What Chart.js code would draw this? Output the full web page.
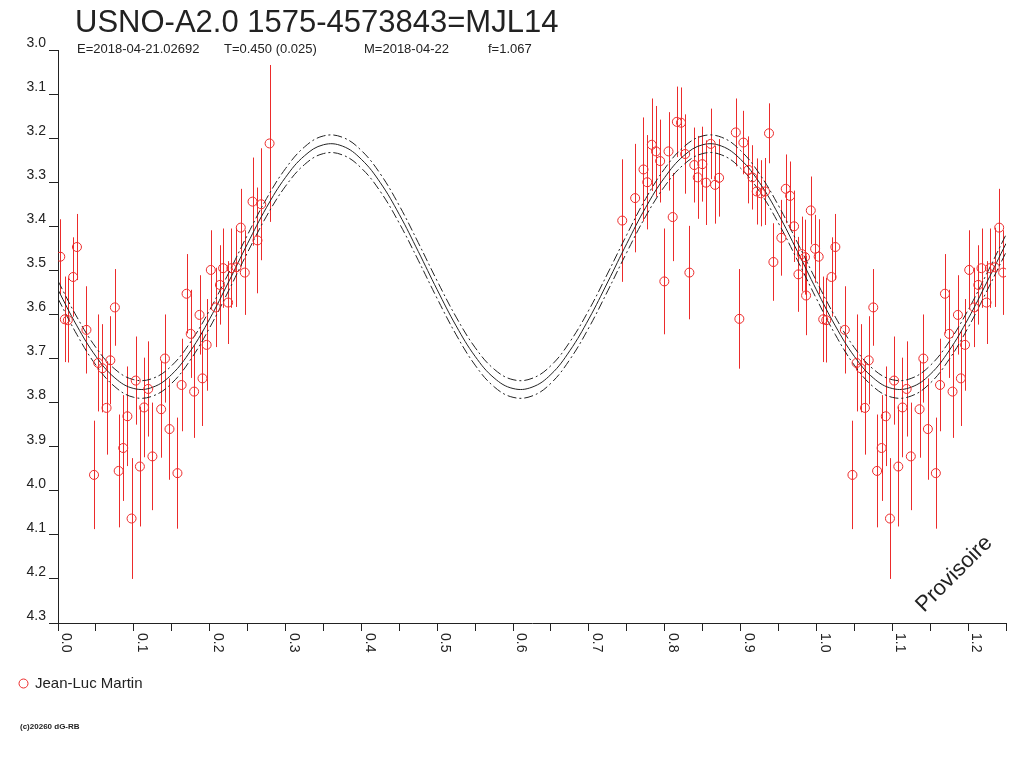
<!DOCTYPE html>
<html>
<head>
<meta charset="utf-8">
<script src="https://cdn.jsdelivr.net/npm/chart.js@4.4.1/dist/chart.umd.min.js"></script>
<style>
html,body{margin:0;padding:0;background:#fff;}
#wrap{width:1024px;height:768px;}
</style>
</head>
<body>
<div id="wrap"><canvas id="lc" width="1024" height="768"></canvas></div>
<script>
const phases = [0.003,0.009,0.013,0.020,0.025,0.0375,0.0475,0.053,0.0585,0.064,0.069,0.075,0.080,0.086,0.0915,0.097,0.1025,0.108,0.1135,0.119,0.1245,0.136,0.141,0.147,0.1575,0.163,0.1695,0.175,0.1795,0.1866,0.1905,0.196,0.2015,0.208,0.2135,0.2177,0.2243,0.2287,0.2353,0.241,0.2463,0.2565,0.263,0.268,0.279,
  0.744,0.761,0.772,0.777,0.783,0.7885,0.794,0.7995,0.805,0.8105,0.816,0.8215,0.827,0.8325,0.839,0.8435,0.8496,0.8545,0.8607,0.8664,0.8717,0.8937,0.8984,0.9037,0.9103,0.9156,0.9213,0.9266,0.9323,0.9375,0.9433,0.9538,0.9596,0.9653,0.9706,0.9763,0.9807,0.985,0.9864,0.9926,0.9983];
const mags = [3.469,3.611,3.613,3.515,3.447,3.635,3.964,3.710,3.722,3.812,3.704,3.584,3.955,3.903,3.831,4.063,3.750,3.945,3.811,3.769,3.922,3.815,3.700,3.860,3.960,3.760,3.553,3.644,3.775,3.601,3.745,3.669,3.499,3.584,3.533,3.495,3.573,3.495,3.493,3.403,3.505,3.344,3.432,3.350,3.212,
  3.387,3.336,3.271,3.300,3.215,3.230,3.252,3.525,3.230,3.379,3.163,3.165,3.236,3.505,3.261,3.289,3.259,3.301,3.213,3.306,3.290,3.187,3.610,3.210,3.272,3.289,3.321,3.325,3.321,3.189,3.481,3.426,3.315,3.331,3.400,3.509,3.463,3.470,3.557,3.364,3.451];
const errs = [0.085,0.097,0.096,0.090,0.075,0.099,0.123,0.110,0.100,0.106,0.100,0.087,0.128,0.120,0.113,0.137,0.100,0.136,0.113,0.108,0.122,0.110,0.100,0.115,0.126,0.105,0.090,0.100,0.105,0.090,0.108,0.104,0.090,0.090,0.090,0.090,0.094,0.090,0.090,0.088,0.096,0.100,0.120,0.127,0.178,
  0.139,0.123,0.118,0.107,0.105,0.103,0.094,0.120,0.089,0.100,0.080,0.080,0.090,0.106,0.085,0.094,0.085,0.096,0.080,0.088,0.088,0.077,0.113,0.072,0.076,0.073,0.075,0.075,0.076,0.068,0.088,0.086,0.078,0.078,0.081,0.085,0.085,0.085,0.090,0.077,0.077];

// fitted light curve and its envelope
const fitPhase = [0,0.025,0.05,0.075,0.1,0.125,0.15,0.175,0.2,0.225,0.25,0.275,0.3,0.325,0.35,0.375,0.4,0.425,0.45,0.475,
  0.5,0.525,0.55,0.575,0.6,0.625,0.65,0.675,0.7,0.725,0.75,0.775,0.8,0.825,0.85,0.875,0.9,0.925,0.95,0.975,
  1.0,1.025,1.05,1.075,1.1,1.125,1.15,1.175,1.2,1.225,1.25];
const fitMag = [3.544,3.626,3.695,3.744,3.768,3.765,3.736,3.682,3.610,3.526,3.439,3.357,3.289,3.240,3.215,3.218,3.248,3.301,3.373,3.457,
  3.544,3.626,3.695,3.744,3.768,3.765,3.736,3.682,3.610,3.526,3.439,3.357,3.289,3.240,3.215,3.218,3.248,3.301,3.373,3.457,
  3.544,3.626,3.695,3.744,3.768,3.765,3.736,3.682,3.610,3.526,3.439];
const fitUpper = [3.524,3.606,3.675,3.724,3.748,3.745,3.716,3.662,3.590,3.506,3.419,3.337,3.269,3.220,3.195,3.198,3.228,3.281,3.353,3.437,
  3.524,3.606,3.675,3.724,3.748,3.745,3.716,3.662,3.590,3.506,3.419,3.337,3.269,3.220,3.195,3.198,3.228,3.281,3.353,3.437,
  3.524,3.606,3.675,3.724,3.748,3.745,3.716,3.662,3.590,3.506,3.419];
const fitLower = [3.564,3.646,3.715,3.764,3.788,3.785,3.756,3.702,3.630,3.546,3.459,3.377,3.309,3.260,3.235,3.238,3.268,3.321,3.393,3.477,
  3.564,3.646,3.715,3.764,3.788,3.785,3.756,3.702,3.630,3.546,3.459,3.377,3.309,3.260,3.235,3.238,3.268,3.321,3.393,3.477,
  3.564,3.646,3.715,3.764,3.788,3.785,3.756,3.702,3.630,3.546,3.459];

const xTickLabels = ['0.0','0.1','0.2','0.3','0.4','0.5','0.6','0.7','0.8','0.9','1.0','1.1','1.2'];
const yTickLabels = ['3.0','3.1','3.2','3.3','3.4','3.5','3.6','3.7','3.8','3.9','4.0','4.1','4.2','4.3'];

const titleText = 'USNO-A2.0 1575-4573843=MJL14';
const subParts = ['E=2018-04-21.02692','T=0.450 (0.025)','M=2018-04-22','f=1.067'];
const observer = 'Jean-Luc Martin';

const RED = '#ec2b2b';
const INK = '#222';
const FONT = '"Liberation Sans", Arial, sans-serif';
Chart.defaults.font.family = FONT;

// points repeated one cycle later when they still fall on the axis
const obs = [];
phases.forEach((p,i)=>{
  obs.push({x:p, y:mags[i], e:errs[i]});
  if(p+1 <= 1.25) obs.push({x:p+1, y:mags[i], e:errs[i]});
});
const curve = arr => fitPhase.map((p,i)=>({x:p, y:arr[i]}));

const errorBars = {
  id:'errorBars',
  beforeDatasetsDraw(chart){
    const {ctx, chartArea:a, scales:{x,y}} = chart;
    ctx.save();
    ctx.beginPath(); ctx.rect(a.left,a.top,a.width,a.height); ctx.clip();
    ctx.strokeStyle = RED; ctx.lineWidth = 1;
    ctx.beginPath();
    chart.data.datasets[0].data.forEach(p=>{
      const px = Math.round(x.getPixelForValue(p.x))+0.5;
      ctx.moveTo(px, y.getPixelForValue(p.y-p.e));
      ctx.lineTo(px, y.getPixelForValue(p.y+p.e));
    });
    ctx.stroke();
    ctx.restore();
  }
};

const texts = {
  id:'texts',
  afterDraw(chart){
    const ctx = chart.ctx;
    const xs = chart.scales.x;
    ctx.save();
    ctx.fillStyle = INK;
    ctx.textBaseline = 'alphabetic';
    ctx.textAlign = 'left';
    ctx.font = '31px '+FONT;
    ctx.fillText(titleText, 75, 32);
    ctx.font = '13px '+FONT;
    const subX = [77,224,364,488];
    subParts.forEach((s,i)=>ctx.fillText(s, subX[i], 53));

    // x tick labels, turned a quarter clockwise
    ctx.font = '14px '+FONT;
    xs.ticks.forEach(t=>{
      const k = Math.round(t.value*10);
      if(Math.abs(t.value*10-k) > 1e-6 || !xTickLabels[k]) return;
      const px = xs.getPixelForValue(t.value);
      ctx.save();
      ctx.translate(px+1, xs.top+10);
      ctx.rotate(Math.PI/2);
      ctx.textBaseline = 'bottom';
      ctx.fillText(xTickLabels[k], 0, 0);
      ctx.restore();
    });

    // legend
    ctx.strokeStyle = RED; ctx.lineWidth = 1;
    ctx.beginPath(); ctx.arc(23.5, 683.5, 4.5, 0, Math.PI*2); ctx.stroke();
    ctx.font = '15px '+FONT;
    ctx.fillText(observer, 35, 688);

    ctx.font = 'bold 8px '+FONT;
    ctx.fillText('(c)20260 dG-RB', 20, 729);

    ctx.font = '22px '+FONT;
    ctx.translate(924, 613);
    ctx.rotate(-Math.PI/4);
    ctx.fillText('Provisoire', 0, 0);
    ctx.restore();
  }
};

new Chart(document.getElementById('lc'), {
  type:'scatter',
  data:{
    datasets:[
      {label:observer, data:obs, pointStyle:'circle', pointRadius:4.5, pointBorderWidth:1,
       pointBorderColor:RED, pointBackgroundColor:'rgba(0,0,0,0)', order:0},
      {label:'fit', data:curve(fitMag), showLine:true, pointRadius:0, borderColor:INK, borderWidth:1, tension:0.4, order:1},
      {label:'upper', data:curve(fitUpper), showLine:true, pointRadius:0, borderColor:INK, borderWidth:1, borderDash:[9,3,2,3], tension:0.4, order:1},
      {label:'lower', data:curve(fitLower), showLine:true, pointRadius:0, borderColor:INK, borderWidth:1, borderDash:[9,3,2,3], tension:0.4, order:1}
    ]
  },
  options:{
    responsive:false,
    devicePixelRatio:1,
    animation:false,
    layout:{padding:{top:50, right:18, left:0, bottom:0}},
    plugins:{legend:{display:false}, tooltip:{enabled:false}, title:{display:false}},
    scales:{
      x:{
        type:'linear', min:0, max:1.25,
        afterFit(s){ s.height = 145; },
        ticks:{stepSize:0.05, autoSkip:false, maxRotation:0, callback:()=>''},
        grid:{drawOnChartArea:false, drawTicks:true, tickLength:8, color:INK},
        border:{color:INK}
      },
      y:{
        type:'linear', reverse:true, min:3.0, max:4.3,
        afterFit(s){ s.width = 58; },
        ticks:{stepSize:0.1, labelOffset:-7, padding:3, color:INK, font:{size:14},
          callback:v=>yTickLabels[Math.round((v-3)*10)]},
        grid:{drawOnChartArea:false, drawTicks:true, tickLength:9, color:INK},
        border:{color:INK}
      }
    }
  },
  plugins:[errorBars, texts]
});
</script>
</body>
</html>
